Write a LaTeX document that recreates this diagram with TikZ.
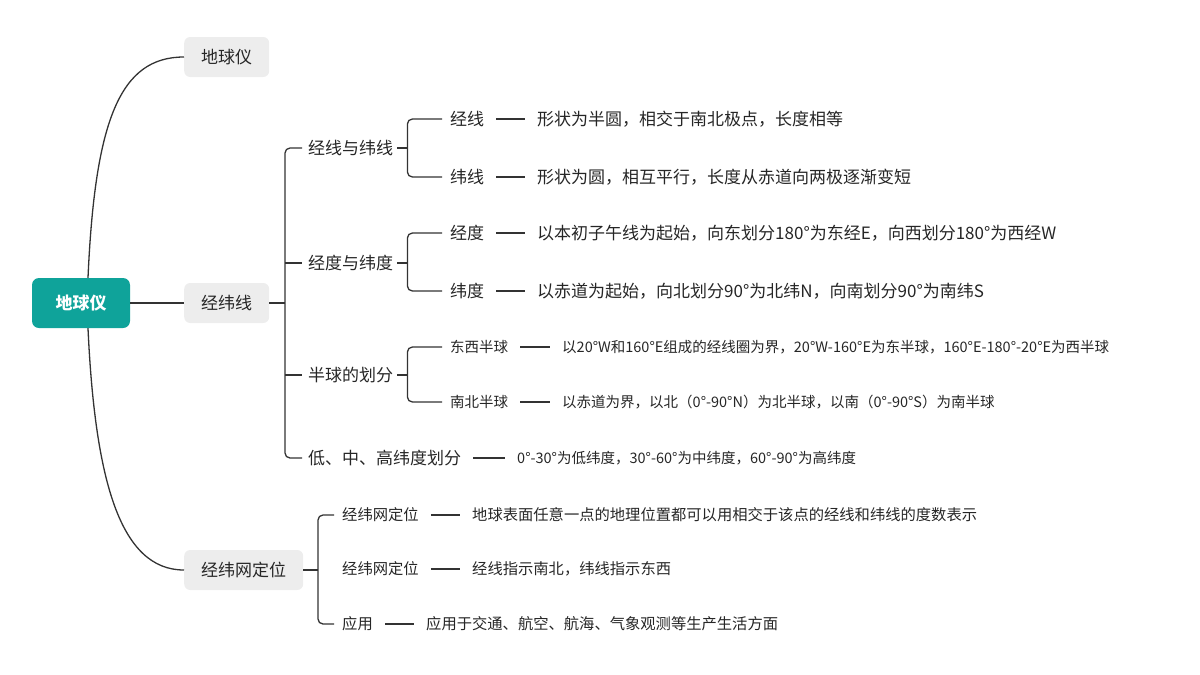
\documentclass[tikz,border=0pt]{standalone}
\usepackage{fontspec}
\setmainfont{Noto Sans CJK SC}
\usetikzlibrary{calc}
\begin{document}
\begin{tikzpicture}[x=1pt,y=-1pt,
  line/.style={draw=black!80,line width=1.3pt},
  brk/.style={line,rounded corners=5pt},
  lvone/.style={fill=black!7,rounded corners=6pt,minimum height=40pt,inner xsep=14pt,font=\fontsize{17}{20}\selectfont,text=black!85},
  t2/.style={anchor=west,inner sep=0pt,font=\fontsize{17}{20}\selectfont,text=black!85},
  t3/.style={anchor=west,inner sep=0pt,font=\fontsize{14.5}{18}\selectfont,text=black!85},
  t4/.style={anchor=west,inner sep=0pt,font=\fontsize{15.3}{18}\selectfont,text=black!85}]
\useasboundingbox (0,0) rectangle (1200,675);
\node[fill={rgb,255:red,15;green,163;blue,154},rounded corners=7pt,minimum width=98pt,minimum height=50pt,text=white,font=\fontsize{17}{20}\selectfont\bfseries] (root) at (81,303) {地球仪};
\node[lvone,anchor=west,minimum width=85pt] (a) at (184,57) {地球仪};
\node[lvone,anchor=west,minimum width=85pt] (b) at (184,303) {经纬线};
\node[lvone,anchor=west,minimum width=119pt] (c) at (184,570) {经纬网定位};
\draw[line] (root.north) ++(7,0) coordinate (rt) .. controls (95,120) and (120,57) .. (a.west);
\draw[line] (root.south) ++(7,0) coordinate (rb) .. controls (95,480) and (120,570) .. (c.west);
\draw[line] (root.east) -- (b.west);
% level 2
\node[t2] (s1) at (308,148) {经线与纬线};
\node[t2] (s2) at (308,263) {经度与纬度};
\node[t2] (s3) at (308,375) {半球的划分};
\node[t2] (s4) at (308,458) {低、中、高纬度划分};
\coordinate (bx) at (285,303);
\draw[line] (b.east) -- (bx);
\draw[brk] (s1.west) ++(-6,0) -| (bx) |- ([xshift=-6pt]s4.west);
\draw[line] (bx |- s2.west) -- ([xshift=-6pt]s2.west);
\draw[line] (bx |- s3.west) -- ([xshift=-6pt]s3.west);
% level 3
\node[t2] (l1) at (450,119) {经线};
\node[t2] (l2) at (450,177) {纬线};
\node[t2] (l3) at (450,233) {经度};
\node[t2] (l4) at (450,291) {纬度};
\node[t3] (l5) at (450,347) {东西半球};
\node[t3] (l6) at (450,402) {南北半球};
\foreach \s/\u/\d in {s1/l1/l2,s2/l3/l4,s3/l5/l6}{
  \coordinate (k\s) at ($(\s.east)+(14,0)$);
  \draw[line] (\s.east) ++(4,0) -- (k\s);
  \draw[brk] ([xshift=-8pt]\u.west) -| (k\s) |- ([xshift=-8pt]\d.west);
}
% texts
\node[t2] (d1) at (537,119) {形状为半圆，相交于南北极点，长度相等};
\node[t2] (d2) at (537,177) {形状为圆，相互平行，长度从赤道向两极逐渐变短};
\node[t2] (d3) at (537,233) {以本初子午线为起始，向东划分180°为东经E，向西划分180°为西经W};
\node[t2] (d4) at (537,291) {以赤道为起始，向北划分90°为北纬N，向南划分90°为南纬S};
\node[t3] (d5) at (562,347) {以20°W和160°E组成的经线圈为界，20°W-160°E为东半球，160°E-180°-20°E为西半球};
\node[t3] (d6) at (562,402) {以赤道为界，以北（0°-90°N）为北半球，以南（0°-90°S）为南半球};
\node[t3] (d7) at (517,458) {0°-30°为低纬度，30°-60°为中纬度，60°-90°为高纬度};
\foreach \u/\d in {l1/d1,l2/d2,l3/d3,l4/d4,l5/d5,l6/d6,s4/d7}{
  \draw[line] ([xshift=12pt]\u.east) -- ([xshift=-12pt]\d.west);
}
% bottom
\node[t4] (m1) at (342,515) {经纬网定位};
\node[t4] (m2) at (342,569) {经纬网定位};
\node[t4] (m3) at (342,624) {应用};
\node[t4] (e1) at (472,515) {地球表面任意一点的地理位置都可以用相交于该点的经线和纬线的度数表示};
\node[t4] (e2) at (472,569) {经线指示南北，纬线指示东西};
\node[t4] (e3) at (426,624) {应用于交通、航空、航海、气象观测等生产生活方面};
\coordinate (cx) at (318,570);
\draw[line] (c.east) -- (cx);
\draw[brk] ([xshift=-8pt]m1.west) -| (cx) |- ([xshift=-8pt]m3.west);
\foreach \u/\d in {m1/e1,m2/e2,m3/e3}{
  \draw[line] ([xshift=12pt]\u.east) -- ([xshift=-12pt]\d.west);
}
\end{tikzpicture}
\end{document}
